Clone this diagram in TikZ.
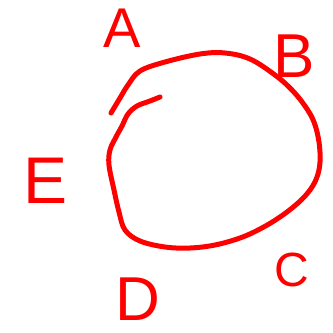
\documentclass[tikz,border=0pt]{standalone}
\usepackage{fontspec}
\setmainfont{Liberation Sans}
\definecolor{ink}{RGB}{255,0,0}
\begin{document}
\begin{tikzpicture}[x=1pt,y=-1pt,
  stroke/.style={draw=ink,line width=5pt,line cap=round,line join=round},
  letter/.style={text=ink,inner sep=0pt,font=\fontsize{#1}{#1}\selectfont}]
\useasboundingbox[fill=white] (0,0) rectangle (333,333);
% outer loop of the circle
\draw[stroke] plot[smooth,tension=0.6] coordinates {
  (111,113) (120,98) (128,85) (140,71) (165,62) (200,54) (225,53) (250,59)
  (275,75) (292,90) (305,106) (314,122) (319,142) (320,162) (317,177)
  (310,190) (298,203) (280,217) (260,229) (240,238) (215,245) (190,248)
  (165,247) (140,241) (125,230) (119,212) (114,190) (109,165) (110,150)
  (116,137) (122,126) (128,114) (137,106) (150,101) (160,97)};
\node[letter=56] (a) at (122,28) {A};
\node[letter=62] (b) at (294,56) {B};
\node[letter=48] (c) at (292,270) {C};
\node[letter=62] (d) at (138,299) {D};
\node[letter=66] (e) at (46,181) {E};
\end{tikzpicture}
\end{document}
